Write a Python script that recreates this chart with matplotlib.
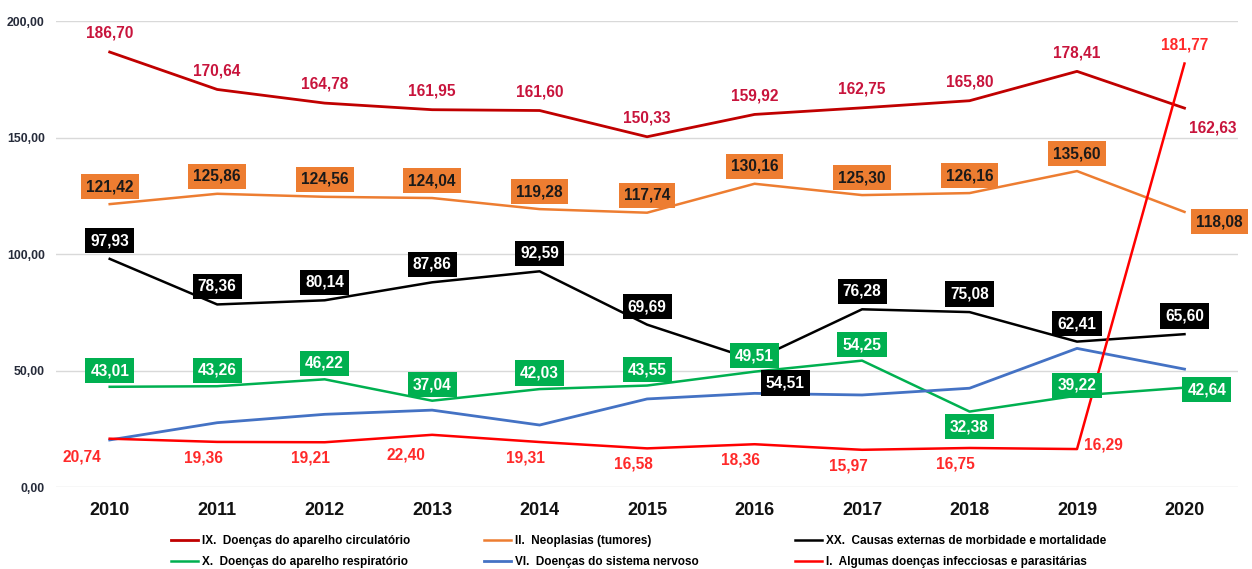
import numpy as np
import matplotlib
matplotlib.use("Agg")
import matplotlib.pyplot as plt

plt.rcParams['font.family'] = ['Liberation Sans', 'DejaVu Sans']

years = ['2010', '2011', '2012', '2013', '2014', '2015', '2016', '2017', '2018', '2019', '2020']

circulatorio = [186.70, 170.64, 164.78, 161.95, 161.60, 150.33, 159.92, 162.75, 165.80, 178.41, 162.63]
neoplasias = [121.42, 125.86, 124.56, 124.04, 119.28, 117.74, 130.16, 125.30, 126.16, 135.60, 118.08]
causas_externas = [97.93, 78.36, 80.14, 87.86, 92.59, 69.69, 54.51, 76.28, 75.08, 62.41, 65.60]
respiratorio = [43.01, 43.26, 46.22, 37.04, 42.03, 43.55, 49.51, 54.25, 32.38, 39.22, 42.64]
nervoso = [20.2, 27.6, 31.2, 33.0, 26.6, 37.8, 40.2, 39.5, 42.4, 59.5, 50.6]
infecciosas = [20.74, 19.36, 19.21, 22.40, 19.31, 16.58, 18.36, 15.97, 16.75, 16.29, 181.77]

names = {
    'circ': 'IX.  Doenças do aparelho circulatório',
    'neo': 'II.  Neoplasias (tumores)',
    'ext': 'XX.  Causas externas de morbidade e mortalidade',
    'resp': 'X.  Doenças do aparelho respiratório',
    'nerv': 'VI.  Doenças do sistema nervoso',
    'inf': 'I.  Algumas doenças infecciosas e parasitárias',
}


def fmt(v):
    return f'{v:.2f}'.replace('.', ',')


def add_labels(ax, x, vals, default, special, color, box=None):
    # default / special are (dx, dy) offsets in points
    for i, v in enumerate(vals):
        dx, dy = special.get(i, default)
        kw = {}
        if box is not None:
            kw['bbox'] = dict(boxstyle='square,pad=0.33', fc=box, ec='none')
        ax.annotate(fmt(v), (x[i], v), xytext=(dx, dy), textcoords='offset points',
                    ha='center', va='center', fontsize=11.2, fontweight='bold',
                    color=color, zorder=10, **kw)


fig = plt.figure(figsize=(12.52, 5.69), dpi=100)
ax = fig.add_axes([0.0447, 0.1441, 0.9443, 0.8189])

x = np.arange(len(years))

l_circ, = ax.plot(x, circulatorio, color='#C00000', lw=2.0, label=names['circ'], zorder=3)
l_resp, = ax.plot(x, respiratorio, color='#00B050', lw=1.8, label=names['resp'], zorder=3)
l_neo, = ax.plot(x, neoplasias, color='#ED7D31', lw=1.8, label=names['neo'], zorder=3)
l_nerv, = ax.plot(x, nervoso, color='#4472C4', lw=2.0, label=names['nerv'], zorder=3)
l_ext, = ax.plot(x, causas_externas, color='#000000', lw=1.8, label=names['ext'], zorder=3)
l_inf, = ax.plot(x, infecciosas, color='#FF0000', lw=1.8, label=names['inf'], zorder=4)

add_labels(ax, x, circulatorio, (0, 13.5), {10: (20, -14)}, '#C8143C')
add_labels(ax, x, neoplasias, (0, 12.5), {10: (25, -7)}, '#1A1A1A', box='#ED7D31')
add_labels(ax, x, causas_externas, (0, 13), {6: (22, -16.5)}, 'white', box='#000000')
add_labels(ax, x, respiratorio, (0, 11.5), {8: (0, -11), 9: (0, 7.5), 10: (16, -1.5)},
           'white', box='#00B050')
add_labels(ax, x, infecciosas, (-10, -11.5),
           {0: (-20, -13.5), 3: (-19, -14.5), 9: (19, 3), 10: (0, 13.5)}, '#FF2A2A')

ax.set_xlim(-0.5, 10.5)
ax.set_ylim(0, 200)
ax.set_yticks([0, 50, 100, 150, 200])
ax.set_yticklabels([fmt(t) for t in [0, 50, 100, 150, 200]], fontsize=8.8,
                   fontweight='bold', color='#262B3A')
ax.set_xticks(x)
ax.set_xticklabels(years, fontsize=13, fontweight='bold', color='#111111')
ax.tick_params(axis='both', length=0)
ax.tick_params(axis='x', pad=11)
ax.tick_params(axis='y', pad=8)
ax.grid(axis='y', color='#D9D9D9', lw=1.0)
ax.set_axisbelow(True)
for s in ax.spines.values():
    s.set_visible(False)

# legend: three columns, each placed on its own
for handles, xpos in [((l_circ, l_resp), 171), ((l_neo, l_nerv), 484), ((l_ext, l_inf), 795)]:
    fig.legend(handles, [h.get_label() for h in handles], loc='center left',
               bbox_to_anchor=(xpos / 1252, 1 - 551.5 / 569), frameon=False,
               prop={'size': 8.5, 'weight': 'bold'}, handlelength=2.3,
               handletextpad=0.3, labelspacing=0.75, borderpad=0, borderaxespad=0)

fig.savefig('out.png', dpi=100)
